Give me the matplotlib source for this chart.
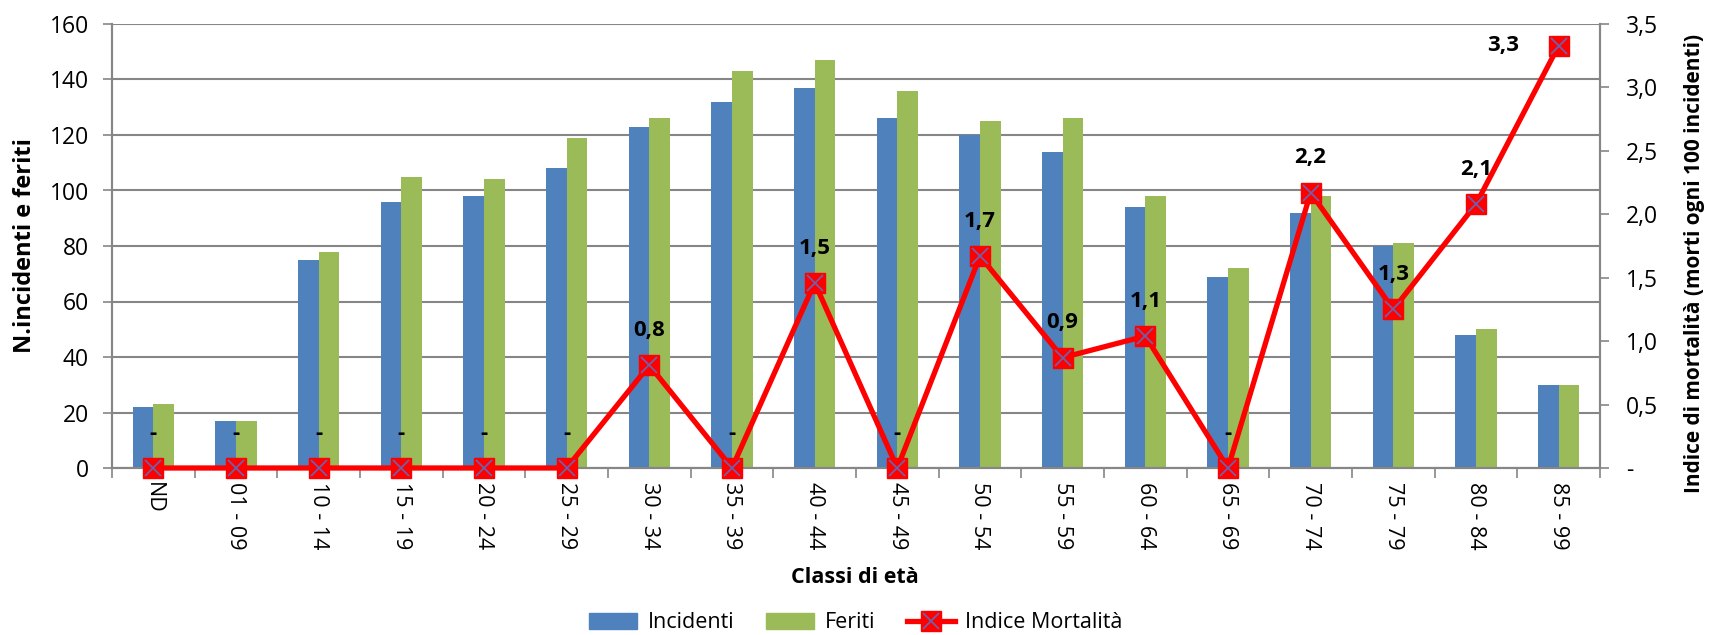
import matplotlib.pyplot as plt
from matplotlib.patches import Patch
from matplotlib.lines import Line2D
from matplotlib.legend_handler import HandlerTuple

plt.rcParams['font.family'] = ['Open Sans', 'DejaVu Sans']

# Dati
classi = ['ND', '01 - 09', '10 - 14', '15 - 19', '20 - 24', '25 - 29', '30 - 34',
          '35 - 39', '40 - 44', '45 - 49', '50 - 54', '55 - 59', '60 - 64',
          '65 - 69', '70 - 74', '75 - 79', '80 - 84', '85 - 99']
incidenti = [22, 17, 75, 96, 98, 108, 123, 132, 137, 126, 120, 114, 94, 69, 92, 80, 48, 30]
feriti = [23, 17, 78, 105, 104, 119, 126, 143, 147, 136, 125, 126, 98, 72, 98, 81, 50, 30]
mortalita = [0, 0, 0, 0, 0, 0, 0.81, 0, 1.46, 0, 1.67, 0.87, 1.04, 0, 2.17, 1.25, 2.08, 3.33]
etichette = ['-', '-', '-', '-', '-', '-', '0,8', '-', '1,5', '-', '1,7', '0,9', '1,1',
             '-', '2,2', '1,3', '2,1', '3,3']

blu = '#4F81BD'
verde = '#9BBB59'
rosso = '#FF0000'
viola = '#7060A8'
grigio = '#868686'

fig = plt.figure(figsize=(17.09, 6.35), dpi=100)
ax = fig.add_axes([112 / 1709, 1 - 468 / 635, (1600 - 112) / 1709, (468 - 24) / 635])

x = list(range(len(classi)))
w = 0.25
ax.bar([i - w / 2 for i in x], incidenti, width=w, color=blu, zorder=2)
ax.bar([i + w / 2 for i in x], feriti, width=w, color=verde, zorder=2)

ax.set_xlim(-0.5, len(classi) - 0.5)
ax.set_ylim(0, 160)
ax.set_yticks(range(0, 161, 20))
ax.yaxis.grid(True, color=grigio, linewidth=1.5, zorder=0)
ax.set_axisbelow(True)

ax.set_xticks(x)
ax.set_xticklabels(classi, rotation=-90, fontsize=15.5)
ax.tick_params(axis='x', length=0, pad=10)
ax.set_xticks([i + 0.5 for i in x[:-1]] + [-0.5, len(classi) - 0.5], minor=True)
ax.tick_params(axis='x', which='minor', length=7, width=1.2, color=grigio)
ax.tick_params(axis='y', labelsize=16.5, length=6.5, width=1.2, color=grigio, pad=10)

ax.spines['top'].set_visible(False)
for s in ['left', 'bottom', 'right']:
    ax.spines[s].set_color(grigio)
    ax.spines[s].set_linewidth(1.5)

ax.set_ylabel('N.incidenti e feriti', fontsize=17, fontweight='bold', va='center')
ax.yaxis.set_label_coords(-0.0585, 0.5)
ax.set_xlabel('Classi di età', fontsize=15.5, fontweight='bold', va='center')
ax.xaxis.set_label_coords(0.499, -0.2455)

ax2 = ax.twinx()
ax2.set_ylim(0, 3.5)
ax2.set_yticks([0, 0.5, 1, 1.5, 2, 2.5, 3, 3.5])
ax2.set_yticklabels(['-', '0,5', '1,0', '1,5', '2,0', '2,5', '3,0', '3,5'])
ax2.tick_params(axis='y', labelsize=16.5, length=6.5, width=1.2, color=grigio, pad=12)
ax2.spines['top'].set_visible(False)
for s in ['left', 'bottom', 'right']:
    ax2.spines[s].set_color(grigio)
    ax2.spines[s].set_linewidth(1.5)
ax2.set_ylabel('Indice di mortalità (morti ogni 100 incidenti)', fontsize=15,
               fontweight='bold', va='center')
ax2.yaxis.set_label_coords(1.0638, 0.46)

ax2.plot(x, mortalita, color=rosso, linewidth=3.8, marker='s', markersize=14,
         markerfacecolor=rosso, markeredgecolor=rosso, zorder=3, clip_on=False)
ax2.plot(x, mortalita, linestyle='none', marker='x', markersize=12,
         markeredgewidth=1.3, color=viola, zorder=4, clip_on=False)

for i, (v, t) in enumerate(zip(mortalita, etichette)):
    if i == len(classi) - 1:
        off = (-40, 0)
    else:
        off = (0, 25)
    ax2.annotate(t, (i, v), xytext=off, textcoords='offset points', ha='center',
                 va='center', fontsize=16, fontweight='bold', zorder=5)

h_line = (Line2D([], [], color=rosso, linewidth=3.8, marker='s', markersize=14,
                 markerfacecolor=rosso, markeredgecolor=rosso),
          Line2D([], [], linestyle='none', marker='x', markersize=12,
                 markeredgewidth=1.3, color=viola))
handles = [Patch(color=blu), Patch(color=verde), h_line]
fig.legend(handles, ['Incidenti', 'Feriti', 'Indice Mortalità'], loc='center',
           bbox_to_anchor=(856 / 1709, 1 - 623 / 635), ncol=3, frameon=False,
           fontsize=15.5, handlelength=2.2, handleheight=0.7, columnspacing=1.5,
           handletextpad=0.5, handler_map={tuple: HandlerTuple(ndivide=1)})

fig.savefig('out.png', dpi=100)
